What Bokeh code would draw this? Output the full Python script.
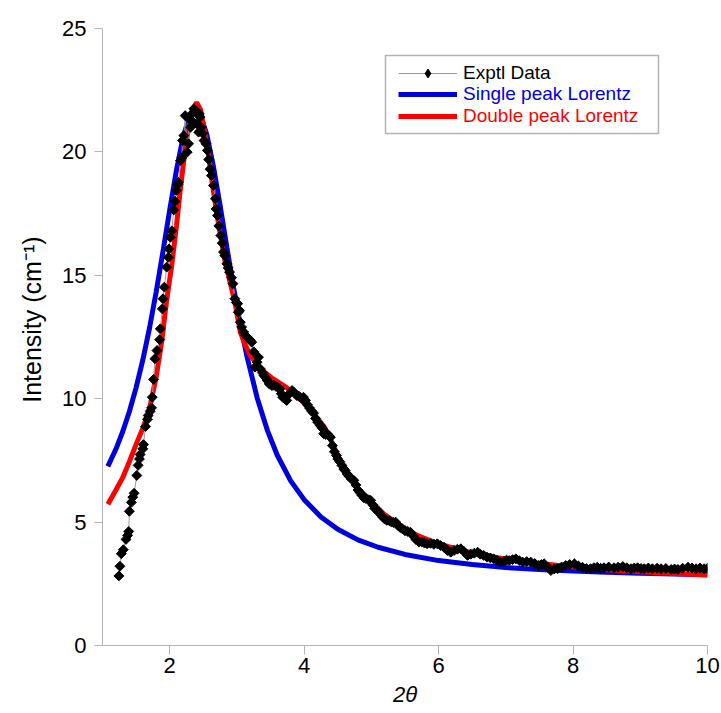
import math

from bokeh.plotting import figure
from bokeh.models import Range1d, Legend, LegendItem, BoxAnnotation, FixedTicker
from bokeh.embed import file_html
from bokeh.resources import INLINE

# Measured small-angle scattering intensity vs 2-theta
exp_x = [1.244, 1.259, 1.28, 1.31, 1.35, 1.374, 1.39, 1.40, 1.43, 1.45, 1.47, 1.51, 1.53,
         1.55, 1.56, 1.60, 1.61, 1.64, 1.67, 1.68, 1.71, 1.73, 1.74, 1.76, 1.78, 1.81, 1.85,
         1.86, 1.89, 1.90, 1.92, 1.955, 1.98, 1.99, 2.01, 2.03, 2.06, 2.08, 2.10, 2.12, 2.13,
         2.16, 2.18, 2.19, 2.21, 2.23, 2.26, 2.28, 2.29, 2.31, 2.33, 2.35, 2.36, 2.38, 2.40,
         2.41, 2.43, 2.44, 2.45, 2.47, 2.49, 2.51, 2.54, 2.56, 2.58, 2.60, 2.62, 2.65, 2.68,
         2.69, 2.71, 2.73, 2.76, 2.78, 2.80, 2.82, 2.85, 2.87, 2.89, 2.92, 2.94, 2.97, 2.99,
         3.01, 3.02, 3.04, 3.05, 3.07, 3.10, 3.13, 3.17, 3.20, 3.22, 3.25, 3.27, 3.30, 3.32,
         3.35, 3.38, 3.40, 3.43, 3.45, 3.48, 3.52, 3.55, 3.58, 3.61, 3.64, 3.66, 3.68, 3.71,
         3.74, 3.78, 3.82, 3.85, 3.89, 3.92, 3.94, 3.97, 3.99, 4.02, 4.05, 4.08, 4.11, 4.14,
         4.17, 4.20, 4.24, 4.27, 4.29, 4.32, 4.34, 4.37, 4.39, 4.42, 4.45, 4.48, 4.50, 4.53,
         4.56, 4.59, 4.61, 4.64, 4.67, 4.70, 4.74, 4.77, 4.80, 4.83, 4.86, 4.89, 4.92, 4.96,
         4.99, 5.02, 5.05, 5.08, 5.11, 5.14, 5.17, 5.20, 5.23, 5.27, 5.30, 5.33, 5.36, 5.40,
         5.43, 5.46, 5.50, 5.54, 5.58, 5.62, 5.66, 5.71, 5.75, 5.79, 5.83, 5.88, 5.93, 5.98,
         6.03, 6.08, 6.13, 6.18, 6.23, 6.28, 6.33, 6.38, 6.43, 6.48, 6.53, 6.58, 6.62, 6.67,
         6.72, 6.77, 6.82, 6.87, 6.92, 6.97, 7.01, 7.05, 7.10, 7.15, 7.20, 7.25, 7.31, 7.37,
         7.43, 7.49, 7.53, 7.57, 7.62, 7.67, 7.72, 7.77, 7.83, 7.89, 7.95, 8.02, 8.08, 8.14,
         8.20, 8.26, 8.31, 8.36, 8.41, 8.46, 8.53, 8.61, 8.67, 8.74, 8.80, 8.86, 8.91, 8.96,
         9.01, 9.06, 9.12, 9.18, 9.25, 9.31, 9.38, 9.46, 9.51, 9.56, 9.63, 9.71, 9.77, 9.83,
         9.89, 9.95, 10.0]
exp_y = [2.82, 3.21, 3.72, 3.88, 4.30, 4.46, 4.62, 5.44, 5.80, 6.01, 6.17, 6.89, 7.30,
         7.56, 7.74, 7.97, 8.14, 8.87, 9.17, 9.32, 9.49, 9.63, 10.06, 10.78, 11.62, 11.95, 12.39,
         12.83, 13.64, 14.05, 14.52, 15.33, 15.73, 16.07, 16.54, 16.80, 17.65, 18.00, 18.44, 18.68, 18.77,
         19.65, 19.76, 20.46, 20.66, 21.47, 19.99, 20.33, 21.34, 21.00, 21.54, 21.20, 21.75, 21.68, 21.14,
         21.60, 20.80, 21.54, 21.41, 21.00, 20.75, 20.46, 20.33, 20.06, 19.69, 19.30, 19.04, 18.64, 18.10,
         17.69, 17.42, 17.00, 16.61, 16.30, 15.94, 15.80, 15.47, 15.30, 15.13, 14.90, 14.66, 14.05, 13.90,
         13.85, 13.50, 13.57, 13.10, 12.90, 12.70, 12.55, 12.45, 12.36, 12.29, 11.90, 11.28, 11.48, 11.68,
         11.20, 11.05, 10.94, 10.85, 10.74, 10.60, 10.53, 10.55, 10.50, 10.45, 10.40, 10.20, 10.06, 10.00,
         9.93, 10.20, 10.33, 10.25, 10.13, 10.10, 10.06, 10.00, 10.06, 9.93, 9.75, 9.62, 9.50, 9.42,
         9.20, 9.05, 8.91, 8.80, 8.58, 8.55, 8.58, 8.50, 8.44, 8.10, 7.85, 7.70, 7.56, 7.45,
         7.30, 7.15, 7.09, 6.95, 6.85, 6.75, 6.69, 6.50, 6.30, 6.20, 6.08, 5.98, 5.95, 5.90,
         5.88, 5.70, 5.55, 5.50, 5.40, 5.30, 5.20, 5.12, 5.07, 5.05, 5.00, 4.98, 5.00, 4.85,
         4.78, 4.73, 4.65, 4.62, 4.59, 4.45, 4.30, 4.19, 4.20, 4.15, 4.12, 4.14, 4.10, 4.12,
         4.05, 3.98, 3.85, 3.78, 3.85, 3.90, 3.92, 3.80, 3.65, 3.70, 3.74, 3.78, 3.70, 3.65,
         3.58, 3.55, 3.51, 3.45, 3.38, 3.42, 3.46, 3.44, 3.48, 3.51, 3.44, 3.38, 3.40, 3.38,
         3.32, 3.24, 3.28, 3.31, 3.18, 3.04, 3.10, 3.11, 3.18, 3.24, 3.28, 3.31, 3.22, 3.17,
         3.12, 3.11, 3.15, 3.17, 3.13, 3.15, 3.18, 3.15, 3.17, 3.20, 3.15, 3.11, 3.14, 3.15,
         3.12, 3.11, 3.14, 3.11, 3.13, 3.11, 3.12, 3.08, 3.10, 3.08, 3.13, 3.17, 3.14, 3.11,
         3.14, 3.11, 3.13]

# Single-peak Lorentzian fit
single_x = [1.08, 1.2, 1.3, 1.4, 1.5, 1.6, 1.7, 1.8, 1.9, 2.0, 2.1, 2.2, 2.3, 2.38, 2.45,
            2.55, 2.65, 2.75, 2.85, 2.95, 3.05, 3.15, 3.3, 3.45, 3.6, 3.8, 4.0, 4.25, 4.5,
            4.8, 5.1, 5.5, 6.0, 6.5, 7.0, 7.5, 8.0, 8.5, 9.0, 9.5, 10.0]
single_y = [7.26, 7.96, 8.66, 9.48, 10.45, 11.57, 12.87, 14.35, 15.97, 17.65, 19.26, 20.61,
            21.47, 21.70, 21.53, 20.72, 19.41, 17.82, 16.13, 14.50, 13.01, 11.70, 10.04, 8.74,
            7.71, 6.67, 5.91, 5.21, 4.71, 4.28, 3.98, 3.69, 3.44, 3.28, 3.16, 3.08, 3.02, 2.97,
            2.93, 2.90, 2.87]

# Double-peak Lorentzian fit
double_x = [1.08, 1.2, 1.3, 1.4, 1.5, 1.6, 1.7, 1.8, 1.88, 1.95, 2.03, 2.1, 2.15, 2.22,
            2.28, 2.34, 2.40, 2.46, 2.52, 2.58, 2.63, 2.70, 2.75, 2.82, 2.90, 2.97, 3.05,
            3.12, 3.20, 3.35, 3.54, 3.74, 3.94, 4.14, 4.3, 4.4, 4.5, 4.6, 4.7, 4.8, 4.94,
            5.18, 5.43, 5.68, 5.93, 6.18, 6.5, 7.0, 7.5, 8.0, 8.5, 9.0, 9.5, 10.0]
double_y = [5.72, 6.30, 6.80, 7.45, 8.15, 8.80, 9.60, 10.90, 12.30, 13.90, 15.40, 17.00,
            18.30, 19.90, 21.00, 21.70, 22.00, 21.70, 20.80, 19.80, 18.80, 17.50, 16.70,
            15.60, 14.70, 13.90, 12.70, 12.20, 11.75, 11.20, 10.80, 10.45, 10.00, 9.40, 8.85,
            8.30, 7.70, 7.15, 6.75, 6.35, 6.00, 5.34, 4.86, 4.46, 4.19, 3.98, 3.75, 3.50,
            3.32, 3.18, 3.07, 2.99, 2.92, 2.86]

x_ticks = [2, 4, 6, 8, 10]
y_ticks = [0, 5, 10, 15, 20, 25]

FONT = "Liberation Sans"
AXIS_GREY = "#b4b4b4"
BLUE = "#0000dd"
RED = "#ff0000"

p = figure(width=721, height=713, output_backend="svg", toolbar_location=None,
           x_range=Range1d(1, 10), y_range=Range1d(0, 25),
           min_border_left=102, min_border_right=14, min_border_top=28, min_border_bottom=68)
p.outline_line_color = None
p.grid.visible = False
p.background_fill_color = "white"
p.border_fill_color = "white"

xa = p.xaxis[0]
ya = p.yaxis[0]
xa.ticker = FixedTicker(ticks=x_ticks)
ya.ticker = FixedTicker(ticks=y_ticks)
for ax in (xa, ya):
    ax.axis_line_color = AXIS_GREY
    ax.major_tick_line_color = AXIS_GREY
    ax.minor_tick_line_color = None
    ax.major_tick_in = 0
    ax.major_label_text_font = FONT
    ax.major_label_text_font_size = "22px"
    ax.major_label_text_color = "black"
    ax.axis_label_text_font = FONT
    ax.axis_label_text_color = "black"
    ax.axis_label_text_font_style = "normal"

xa.major_tick_out = 9
xa.major_label_standoff = 3
xa.axis_label = "2θ"
xa.axis_label_text_font_style = "italic"
xa.axis_label_text_font_size = "22px"
xa.axis_label_standoff = 6

ya.major_tick_out = 8
ya.major_label_standoff = 8
# leading no-break spaces nudge the rotated title a little above the frame centre
ya.axis_label = "\u00a0" * 5 + "Intensity (cm⁻¹)"
ya.axis_label_text_font_size = "25px"
ya.axis_label_standoff = 13

blue = p.line(single_x, single_y, line_color=BLUE, line_width=5)
red = p.line(double_x, double_y, line_color=RED, line_width=5)
link = p.line(exp_x, exp_y, line_color="#9a9a9a", line_width=1)
pts = p.scatter(exp_x, exp_y, marker="square", size=7, angle=math.pi / 4,
                fill_color="black", line_color="black")
# narrow diamond on the first reading (hidden under its square); used as the legend swatch
key_mark = p.scatter(exp_x[:1], exp_y[:1], marker="diamond", size=8,
                     fill_color="black", line_color="black")

# legend frame
p.add_layout(BoxAnnotation(left=385, right=658, top=55, bottom=133,
                           left_units="canvas", right_units="canvas",
                           top_units="canvas", bottom_units="canvas",
                           fill_alpha=0, line_color="black", line_width=1.5))

entries = [("Exptl Data", [link, key_mark], "black", 560),
           ("Single peak Lorentz", [blue], BLUE, 538.7),
           ("Double peak Lorentz", [red], RED, 517.5)]
for label, rends, color, vy in entries:
    leg = Legend(items=[LegendItem(label=label, renderers=rends)],
                 location=(296, vy), border_line_color=None, background_fill_alpha=0,
                 padding=0, margin=0, spacing=0, glyph_width=59, glyph_height=22,
                 label_height=24, label_standoff=6, label_text_font=FONT,
                 label_text_font_size="19px", label_text_color=color)
    p.add_layout(leg)

open("out.html", "w").write(file_html(p, INLINE))
